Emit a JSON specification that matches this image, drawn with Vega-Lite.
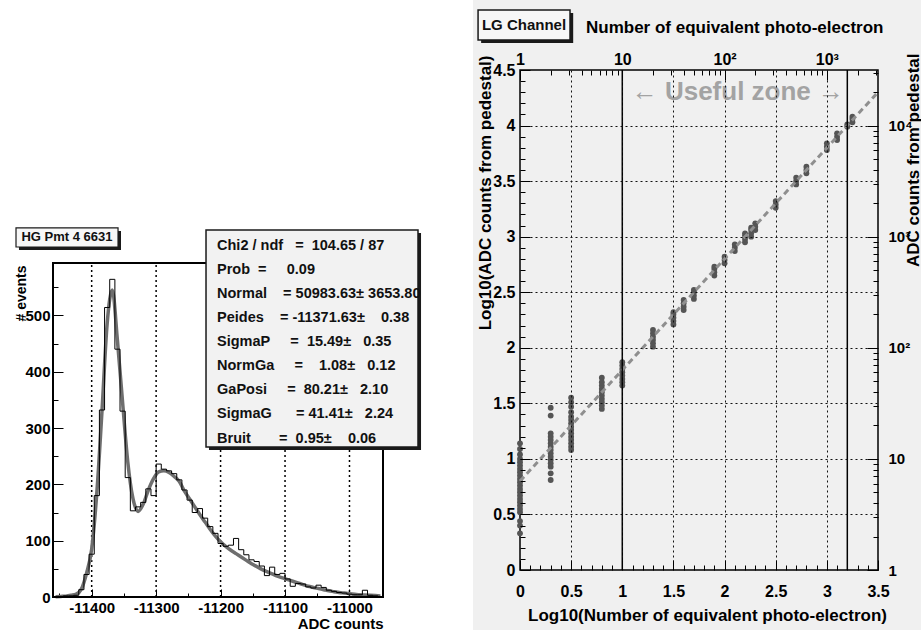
{
  "$schema": "https://vega.github.io/schema/vega-lite/v6.json",
  "background": "white",
  "padding": {"left": 14, "top": 0, "right": 0, "bottom": 0},
  "bounds": "flush",
  "spacing": 137,
  "config": {
    "view": {"stroke": null},
    "axis": {"labelFont": "Liberation Sans", "labelFontWeight": "bold", "labelColor": "black", "titleFont": "Liberation Sans", "titleFontWeight": "bold", "titleColor": "black", "tickColor": "black", "tickWidth": 1, "domain": false, "grid": false, "labelFlush": false, "labelOverlap": false},
    "text": {"font": "Liberation Sans"}
  },
  "datasets": {
    "hist": [
      {"adc": -11456, "n": 0, "fit": 0.5}, {"adc": -11448, "n": 1, "fit": 1}, {"adc": -11440, "n": 2, "fit": 1.5}, {"adc": -11432, "n": 2, "fit": 3},
      {"adc": -11424, "n": 3, "fit": 5}, {"adc": -11416, "n": 13, "fit": 14}, {"adc": -11408, "n": 40, "fit": 42}, {"adc": -11400, "n": 76, "fit": 85},
      {"adc": -11392, "n": 180, "fit": 185}, {"adc": -11384, "n": 332, "fit": 330}, {"adc": -11376, "n": 514, "fit": 485}, {"adc": -11368, "n": 564, "fit": 545},
      {"adc": -11360, "n": 440, "fit": 455}, {"adc": -11352, "n": 330, "fit": 345}, {"adc": -11344, "n": 212, "fit": 240}, {"adc": -11336, "n": 153, "fit": 175},
      {"adc": -11328, "n": 160, "fit": 152}, {"adc": -11320, "n": 168, "fit": 165}, {"adc": -11312, "n": 192, "fit": 190}, {"adc": -11304, "n": 180, "fit": 210},
      {"adc": -11296, "n": 236, "fit": 222}, {"adc": -11288, "n": 227, "fit": 224}, {"adc": -11280, "n": 224, "fit": 221}, {"adc": -11272, "n": 219, "fit": 214},
      {"adc": -11264, "n": 208, "fit": 205}, {"adc": -11256, "n": 190, "fit": 188}, {"adc": -11248, "n": 172, "fit": 174}, {"adc": -11240, "n": 150, "fit": 160},
      {"adc": -11232, "n": 157, "fit": 146}, {"adc": -11224, "n": 140, "fit": 133}, {"adc": -11216, "n": 125, "fit": 120}, {"adc": -11208, "n": 113, "fit": 108},
      {"adc": -11200, "n": 95, "fit": 98}, {"adc": -11192, "n": 90, "fit": 90}, {"adc": -11184, "n": 92, "fit": 83}, {"adc": -11176, "n": 104, "fit": 77},
      {"adc": -11168, "n": 84, "fit": 71}, {"adc": -11160, "n": 75, "fit": 65}, {"adc": -11152, "n": 66, "fit": 59}, {"adc": -11144, "n": 63, "fit": 54},
      {"adc": -11136, "n": 55, "fit": 49}, {"adc": -11128, "n": 38, "fit": 45}, {"adc": -11120, "n": 53, "fit": 41}, {"adc": -11112, "n": 40, "fit": 37},
      {"adc": -11104, "n": 42, "fit": 34}, {"adc": -11096, "n": 32, "fit": 31}, {"adc": -11088, "n": 19, "fit": 28}, {"adc": -11080, "n": 24, "fit": 25},
      {"adc": -11072, "n": 23, "fit": 22}, {"adc": -11064, "n": 18, "fit": 19}, {"adc": -11056, "n": 16, "fit": 17}, {"adc": -11048, "n": 21, "fit": 15},
      {"adc": -11040, "n": 17, "fit": 13}, {"adc": -11032, "n": 12, "fit": 11}, {"adc": -11024, "n": 10, "fit": 9.5}, {"adc": -11016, "n": 8, "fit": 8},
      {"adc": -11008, "n": 7, "fit": 7}, {"adc": -11000, "n": 5, "fit": 6}, {"adc": -10992, "n": 4, "fit": 5}, {"adc": -10984, "n": 4, "fit": 4},
      {"adc": -10976, "n": 12, "fit": 3.5}, {"adc": -10968, "n": 3, "fit": 3}, {"adc": -10960, "n": 2, "fit": 2.5}, {"adc": -10952, "n": 1, "fit": 2}
    ],
    "pts": [
      {"lx": 0, "ly": 0.33}, {"lx": 0, "ly": 0.40}, {"lx": 0, "ly": 0.44}, {"lx": 0, "ly": 0.52}, {"lx": 0, "ly": 0.55}, {"lx": 0, "ly": 0.58}, {"lx": 0, "ly": 0.61}, {"lx": 0, "ly": 0.64}, {"lx": 0, "ly": 0.67}, {"lx": 0, "ly": 0.70}, {"lx": 0, "ly": 0.73}, {"lx": 0, "ly": 0.76}, {"lx": 0, "ly": 0.79}, {"lx": 0, "ly": 0.82}, {"lx": 0, "ly": 0.85}, {"lx": 0, "ly": 0.88}, {"lx": 0, "ly": 0.91}, {"lx": 0, "ly": 0.94}, {"lx": 0, "ly": 0.97}, {"lx": 0, "ly": 1.00}, {"lx": 0, "ly": 1.04}, {"lx": 0, "ly": 1.09}, {"lx": 0, "ly": 1.14},
      {"lx": 0.3, "ly": 0.81}, {"lx": 0.3, "ly": 0.87}, {"lx": 0.3, "ly": 0.93}, {"lx": 0.3, "ly": 0.96}, {"lx": 0.3, "ly": 0.99}, {"lx": 0.3, "ly": 1.02}, {"lx": 0.3, "ly": 1.05}, {"lx": 0.3, "ly": 1.08}, {"lx": 0.3, "ly": 1.11}, {"lx": 0.3, "ly": 1.14}, {"lx": 0.3, "ly": 1.17}, {"lx": 0.3, "ly": 1.20}, {"lx": 0.3, "ly": 1.23}, {"lx": 0.3, "ly": 1.39}, {"lx": 0.3, "ly": 1.46},
      {"lx": 0.5, "ly": 1.08}, {"lx": 0.5, "ly": 1.11}, {"lx": 0.5, "ly": 1.14}, {"lx": 0.5, "ly": 1.17}, {"lx": 0.5, "ly": 1.20}, {"lx": 0.5, "ly": 1.23}, {"lx": 0.5, "ly": 1.26}, {"lx": 0.5, "ly": 1.29}, {"lx": 0.5, "ly": 1.32}, {"lx": 0.5, "ly": 1.35}, {"lx": 0.5, "ly": 1.38}, {"lx": 0.5, "ly": 1.42}, {"lx": 0.5, "ly": 1.47}, {"lx": 0.5, "ly": 1.51}, {"lx": 0.5, "ly": 1.55},
      {"lx": 0.8, "ly": 1.45}, {"lx": 0.8, "ly": 1.48}, {"lx": 0.8, "ly": 1.51}, {"lx": 0.8, "ly": 1.54}, {"lx": 0.8, "ly": 1.57}, {"lx": 0.8, "ly": 1.60}, {"lx": 0.8, "ly": 1.63}, {"lx": 0.8, "ly": 1.66}, {"lx": 0.8, "ly": 1.69}, {"lx": 0.8, "ly": 1.73},
      {"lx": 1.0, "ly": 1.66}, {"lx": 1.0, "ly": 1.69}, {"lx": 1.0, "ly": 1.72}, {"lx": 1.0, "ly": 1.75}, {"lx": 1.0, "ly": 1.78}, {"lx": 1.0, "ly": 1.81}, {"lx": 1.0, "ly": 1.84}, {"lx": 1.0, "ly": 1.87},
      {"lx": 1.3, "ly": 2.01}, {"lx": 1.3, "ly": 2.04}, {"lx": 1.3, "ly": 2.07}, {"lx": 1.3, "ly": 2.10}, {"lx": 1.3, "ly": 2.13}, {"lx": 1.3, "ly": 2.16},
      {"lx": 1.5, "ly": 2.21}, {"lx": 1.5, "ly": 2.24}, {"lx": 1.5, "ly": 2.27}, {"lx": 1.5, "ly": 2.30}, {"lx": 1.5, "ly": 2.32},
      {"lx": 1.6, "ly": 2.34}, {"lx": 1.6, "ly": 2.37}, {"lx": 1.6, "ly": 2.40}, {"lx": 1.6, "ly": 2.43},
      {"lx": 1.7, "ly": 2.44}, {"lx": 1.7, "ly": 2.47}, {"lx": 1.7, "ly": 2.50}, {"lx": 1.7, "ly": 2.52},
      {"lx": 1.9, "ly": 2.65}, {"lx": 1.9, "ly": 2.68}, {"lx": 1.9, "ly": 2.71}, {"lx": 1.9, "ly": 2.73},
      {"lx": 2.0, "ly": 2.76}, {"lx": 2.0, "ly": 2.79}, {"lx": 2.0, "ly": 2.82},
      {"lx": 2.1, "ly": 2.87}, {"lx": 2.1, "ly": 2.90}, {"lx": 2.1, "ly": 2.93},
      {"lx": 2.2, "ly": 2.95}, {"lx": 2.2, "ly": 2.98}, {"lx": 2.2, "ly": 3.01}, {"lx": 2.2, "ly": 3.03},
      {"lx": 2.26, "ly": 3.00}, {"lx": 2.26, "ly": 3.03}, {"lx": 2.26, "ly": 3.06}, {"lx": 2.26, "ly": 3.08},
      {"lx": 2.3, "ly": 3.06}, {"lx": 2.3, "ly": 3.09}, {"lx": 2.3, "ly": 3.12},
      {"lx": 2.5, "ly": 3.26}, {"lx": 2.5, "ly": 3.29}, {"lx": 2.5, "ly": 3.32},
      {"lx": 2.7, "ly": 3.47}, {"lx": 2.7, "ly": 3.50}, {"lx": 2.7, "ly": 3.53},
      {"lx": 2.8, "ly": 3.57}, {"lx": 2.8, "ly": 3.60}, {"lx": 2.8, "ly": 3.63},
      {"lx": 3.0, "ly": 3.78}, {"lx": 3.0, "ly": 3.81}, {"lx": 3.0, "ly": 3.84},
      {"lx": 3.1, "ly": 3.87}, {"lx": 3.1, "ly": 3.90}, {"lx": 3.1, "ly": 3.93},
      {"lx": 3.2, "ly": 3.99}, {"lx": 3.2, "ly": 4.01},
      {"lx": 3.25, "ly": 4.03}, {"lx": 3.25, "ly": 4.06}, {"lx": 3.25, "ly": 4.08}
    ],
    "fitline": [{"lx": 0, "ly": 0.8}, {"lx": 3.5, "ly": 4.3}],
    "cuts": [{"lx": 1}, {"lx": 3.2}],
    "hgrid": [{"g": -11400}, {"g": -11300}, {"g": -11200}, {"g": -11100}, {"g": -11000}]
  },
  "hconcat": [
    {
      "width": 330,
      "height": 527,
      "resolve": {"axis": {"x": "independent", "y": "independent"}},
      "layer": [
        {
          "data": {"name": "hgrid"},
          "mark": {"type": "rule", "color": "black", "strokeWidth": 1.5, "strokeDash": [2, 3]},
          "encoding": {
            "x": {"field": "g", "type": "quantitative", "scale": {"domain": [-11460, -10948], "nice": false, "zero": false}, "axis": null},
            "y": {"datum": 0, "type": "quantitative", "scale": {"domain": [0, 935.66], "nice": false, "zero": false}, "axis": null},
            "y2": {"datum": 593}
          }
        },
        {
          "data": {"name": "hist"},
          "mark": {"type": "line", "interpolate": "monotone", "color": "#6e6e6e", "strokeWidth": 3.5},
          "encoding": {
            "x": {"field": "adc", "type": "quantitative",
              "axis": {"orient": "bottom", "values": [-11400, -11300, -11200, -11100, -11000], "offset": -8, "tickSize": 8, "labelPadding": 3, "labelFontSize": 15, "labelExpr": "'' + datum.value", "title": "ADC counts", "titleFontSize": 15, "titleX": 330, "titleY": 34, "titleAlign": "right", "titleBaseline": "middle"}},
            "y": {"field": "fit", "type": "quantitative",
              "axis": {"orient": "left", "values": [0, 100, 200, 300, 400, 500], "offset": -10, "tickSize": 10, "labelPadding": 3, "labelFontSize": 15, "labelExpr": "'' + datum.value", "title": "# events", "titleFontSize": 14, "titleX": -42, "titleY": 195, "titleAngle": 270, "titleAlign": "right", "titleBaseline": "middle"}}
          }
        },
        {
          "data": {"name": "hist"},
          "mark": {"type": "line", "interpolate": "step", "color": "black", "strokeWidth": 1},
          "encoding": {
            "x": {"field": "adc", "type": "quantitative", "axis": {"orient": "bottom", "values": [-11450, -11350, -11250, -11150, -11050, -10950], "offset": -4, "tickSize": 4, "labels": false, "title": null}},
            "y": {"field": "n", "type": "quantitative", "axis": {"orient": "left", "values": [50, 150, 250, 350, 450, 550], "offset": -5, "tickSize": 5, "labels": false, "title": null}}
          }
        },
        {
          "data": {"values": [{}]},
          "mark": {"type": "rect", "fill": null, "stroke": "black", "strokeWidth": 2},
          "encoding": {
            "x": {"datum": -11460, "type": "quantitative", "axis": null},
            "x2": {"datum": -10948},
            "y": {"datum": 0, "type": "quantitative", "axis": null},
            "y2": {"datum": 593}
          }
        },
        {
          "data": {"values": [{}]},
          "mark": {"type": "rect", "color": "#1a1a1a"},
          "encoding": {
            "x": {"datum": -11218, "type": "quantitative", "axis": null},
            "x2": {"datum": -10889},
            "y": {"datum": 646.3, "type": "quantitative", "axis": null},
            "y2": {"datum": 261}
          }
        },
        {
          "data": {"values": [{}]},
          "mark": {"type": "rect", "fill": "#f2f2f2", "stroke": "#1a1a1a", "strokeWidth": 1.5},
          "encoding": {
            "x": {"datum": -11222.6, "type": "quantitative", "axis": null},
            "x2": {"datum": -10893.7},
            "y": {"datum": 651.6, "type": "quantitative", "axis": null},
            "y2": {"datum": 266.3}
          }
        },
        {
          "data": {"values": [{}]},
          "mark": {"type": "text", "align": "left", "baseline": "middle", "fontSize": 14.5, "fontWeight": "bold", "lineHeight": 24.1, "color": "#111"},
          "encoding": {
            "x": {"datum": -11205.5, "type": "quantitative", "axis": null},
            "y": {"datum": 623.6, "type": "quantitative", "axis": null},
            "text": {"value": [
              "Chi2 / ndf\u00a0\u00a0\u00a0=\u00a0\u00a0104.65 / 87",
              "Prob\u00a0\u00a0=\u00a0\u00a0\u00a0\u00a0\u00a00.09",
              "Normal\u00a0\u00a0\u00a0\u00a0=\u00a050983.63±\u00a03653.80",
              "Peides\u00a0\u00a0\u00a0\u00a0=\u00a0-11371.63±\u00a0\u00a0\u00a0\u00a00.38",
              "SigmaP\u00a0\u00a0\u00a0\u00a0\u00a0=\u00a0\u00a015.49±\u00a0\u00a0\u00a00.35",
              "NormGa\u00a0\u00a0\u00a0\u00a0\u00a0=\u00a0\u00a0\u00a0\u00a01.08±\u00a0\u00a0\u00a00.12",
              "GaPosi\u00a0\u00a0\u00a0\u00a0\u00a0=\u00a0\u00a080.21±\u00a0\u00a0\u00a02.10",
              "SigmaG\u00a0\u00a0\u00a0\u00a0\u00a0\u00a0=\u00a041.41±\u00a0\u00a0\u00a02.24",
              "Bruit\u00a0\u00a0\u00a0\u00a0\u00a0\u00a0\u00a0=\u00a0\u00a00.95±\u00a0\u00a0\u00a0\u00a00.06"
            ]}
          }
        },
        {
          "data": {"values": [{}]},
          "mark": {"type": "rect", "color": "#1a1a1a"},
          "encoding": {
            "x": {"datum": -11512.8, "type": "quantitative", "axis": null},
            "x2": {"datum": -11354.5},
            "y": {"datum": 649.9, "type": "quantitative", "axis": null},
            "y2": {"datum": 616.1}
          }
        },
        {
          "data": {"values": [{}]},
          "mark": {"type": "rect", "fill": "#f7f7f7", "stroke": "#1a1a1a", "strokeWidth": 1.2},
          "encoding": {
            "x": {"datum": -11517.4, "type": "quantitative", "axis": null},
            "x2": {"datum": -11359.1},
            "y": {"datum": 655.2, "type": "quantitative", "axis": null},
            "y2": {"datum": 621.4}
          }
        },
        {
          "data": {"values": [{}]},
          "mark": {"type": "text", "align": "center", "baseline": "middle", "fontSize": 13, "fontWeight": "bold", "color": "#111"},
          "encoding": {
            "x": {"datum": -11438.3, "type": "quantitative", "axis": null},
            "y": {"datum": 638.3, "type": "quantitative", "axis": null},
            "text": {"value": "HG Pmt 4 6631"}
          }
        }
      ]
    },
    {
      "width": 358,
      "height": 500,
      "resolve": {"axis": {"x": "independent", "y": "independent"}},
      "layer": [
        {
          "data": {"values": [{}]},
          "mark": {"type": "rect", "fill": "#f0f0f0"},
          "encoding": {
            "x": {"datum": -0.46, "type": "quantitative", "scale": {"domain": [0, 3.5], "nice": false, "zero": false}, "axis": null},
            "x2": {"datum": 3.92},
            "y": {"datum": -0.54, "type": "quantitative", "scale": {"domain": [0, 4.5], "nice": false, "zero": false}, "axis": null},
            "y2": {"datum": 5.13}
          }
        },
        {
          "data": {"values": [{}]},
          "mark": {"type": "rect", "fill": null, "stroke": "black", "strokeWidth": 1.5},
          "encoding": {
            "x": {"datum": 0, "type": "quantitative", "axis": {"orient": "bottom", "values": [0.5, 1, 1.5, 2, 2.5, 3], "grid": true, "gridDash": [2, 3], "gridColor": "#111", "gridWidth": 1, "ticks": false, "labels": false, "title": null, "zindex": 1}},
            "x2": {"datum": 3.5},
            "y": {"datum": 0, "type": "quantitative", "axis": {"orient": "left", "values": [0.5, 1, 1.5, 2, 2.5, 3, 3.5, 4], "grid": true, "gridDash": [2, 3], "gridColor": "#111", "gridWidth": 1, "ticks": false, "labels": false, "title": null, "zindex": 1}},
            "y2": {"datum": 4.5}
          }
        },
        {
          "data": {"values": [{}]},
          "mark": {"type": "rect", "color": "#1a1a1a"},
          "encoding": {
            "x": {"datum": -0.38, "type": "quantitative", "axis": null},
            "x2": {"datum": 0.52},
            "y": {"datum": 4.743, "type": "quantitative", "axis": null},
            "y2": {"datum": 5.013}
          }
        },
        {
          "data": {"values": [{}]},
          "mark": {"type": "rect", "fill": "#f7f7f7", "stroke": "#1a1a1a", "strokeWidth": 1.5},
          "encoding": {
            "x": {"datum": -0.41, "type": "quantitative", "axis": null},
            "x2": {"datum": 0.489},
            "y": {"datum": 4.77, "type": "quantitative", "axis": null},
            "y2": {"datum": 5.04}
          }
        },
        {
          "data": {"values": [{}]},
          "mark": {"type": "text", "align": "center", "baseline": "middle", "fontSize": 15, "fontWeight": "bold", "color": "#111"},
          "encoding": {
            "x": {"datum": 0.039, "type": "quantitative", "axis": null},
            "y": {"datum": 4.905, "type": "quantitative", "axis": null},
            "text": {"value": "LG Channel"}
          }
        },
        {
          "data": {"name": "pts"},
          "mark": {"type": "circle", "color": "#555555", "opacity": 1, "size": 34},
          "encoding": {
            "x": {"field": "lx", "type": "quantitative", "axis": {"orient": "bottom", "values": [0, 0.5, 1, 1.5, 2, 2.5, 3, 3.5], "offset": -10, "tickSize": 10, "labelPadding": 13, "labelFontSize": 16, "labelExpr": "'' + datum.value", "title": "Log10(Number of equivalent photo-electron)", "titleFontSize": 17, "titleX": 187, "titleY": 55, "titleAlign": "center", "titleBaseline": "middle", "zindex": 1}},
            "y": {"field": "ly", "type": "quantitative", "axis": {"orient": "left", "values": [0, 0.5, 1, 1.5, 2, 2.5, 3, 3.5, 4, 4.5], "offset": -10, "tickSize": 10, "labelPadding": 5, "labelFontSize": 16, "labelExpr": "'' + datum.value", "title": "Log10(ADC counts from pedestal)", "titleFontSize": 17, "titleX": -45, "titleY": -15, "titleAngle": 270, "titleAlign": "right", "titleBaseline": "middle", "zindex": 1}}
          }
        },
        {
          "data": {"name": "fitline"},
          "mark": {"type": "line", "color": "#8f8f8f", "strokeWidth": 3, "strokeDash": [6, 4]},
          "encoding": {
            "x": {"field": "lx", "type": "quantitative", "axis": {"orient": "bottom", "values": [0.1, 0.2, 0.3, 0.4, 0.6, 0.7, 0.8, 0.9, 1.1, 1.2, 1.3, 1.4, 1.6, 1.7, 1.8, 1.9, 2.1, 2.2, 2.3, 2.4, 2.6, 2.7, 2.8, 2.9, 3.1, 3.2, 3.3, 3.4], "offset": -5, "tickSize": 5, "labels": false, "title": null, "zindex": 1}},
            "y": {"field": "ly", "type": "quantitative", "axis": {"orient": "left", "values": [0.1, 0.2, 0.3, 0.4, 0.6, 0.7, 0.8, 0.9, 1.1, 1.2, 1.3, 1.4, 1.6, 1.7, 1.8, 1.9, 2.1, 2.2, 2.3, 2.4, 2.6, 2.7, 2.8, 2.9, 3.1, 3.2, 3.3, 3.4, 3.6, 3.7, 3.8, 3.9, 4.1, 4.2, 4.3, 4.4], "offset": -5, "tickSize": 5, "labels": false, "title": null, "zindex": 1}}
          }
        },
        {
          "data": {"name": "cuts"},
          "mark": {"type": "rule", "color": "black", "strokeWidth": 1.5},
          "encoding": {
            "x": {"field": "lx", "type": "quantitative", "axis": {"orient": "top", "values": [0, 1, 2, 3], "offset": -10, "tickSize": 10, "labelPadding": 3, "labelFontSize": 16, "labelExpr": "['1','10','10²','10³'][datum.value]", "title": "Number of equivalent photo-electron", "titleFontSize": 17, "titleX": 363, "titleY": -53, "titleAlign": "right", "titleBaseline": "middle", "zindex": 1}},
            "y": {"datum": 0, "type": "quantitative", "axis": {"orient": "right", "values": [0, 1, 2, 3, 4], "offset": -11, "tickSize": 11, "labelPadding": 10, "labelFontSize": 15, "labelExpr": "['1','10','10²','10³','10⁴'][datum.value]", "title": "ADC counts from pedestal", "titleFontSize": 17, "titleX": 46, "titleY": -17, "titleAngle": 270, "titleAlign": "right", "titleBaseline": "middle", "zindex": 1}},
            "y2": {"datum": 4.5}
          }
        },
        {
          "data": {"values": [{}]},
          "mark": {"type": "text", "align": "center", "baseline": "middle", "fontSize": 26, "fontWeight": "bold", "color": "#a3a3a3"},
          "encoding": {
            "x": {"datum": 2.13, "type": "quantitative", "axis": {"orient": "top", "values": [0.301, 0.477, 0.602, 0.699, 0.778, 0.845, 0.903, 0.954, 1.301, 1.477, 1.602, 1.699, 1.778, 1.845, 1.903, 1.954, 2.301, 2.477, 2.602, 2.699, 2.778, 2.845, 2.903, 2.954, 3.301, 3.477], "offset": -5, "tickSize": 5, "labels": false, "title": null, "zindex": 1}},
            "y": {"datum": 4.3, "type": "quantitative", "axis": {"orient": "right", "values": [0.301, 0.477, 0.602, 0.699, 0.778, 0.845, 0.903, 0.954, 1.301, 1.477, 1.602, 1.699, 1.778, 1.845, 1.903, 1.954, 2.301, 2.477, 2.602, 2.699, 2.778, 2.845, 2.903, 2.954, 3.301, 3.477, 3.602, 3.699, 3.778, 3.845, 3.903, 3.954, 4.301, 4.477], "offset": -5, "tickSize": 5, "labels": false, "title": null, "zindex": 1}},
            "text": {"value": "← Useful zone →"}
          }
        }
      ]
    }
  ]
}
